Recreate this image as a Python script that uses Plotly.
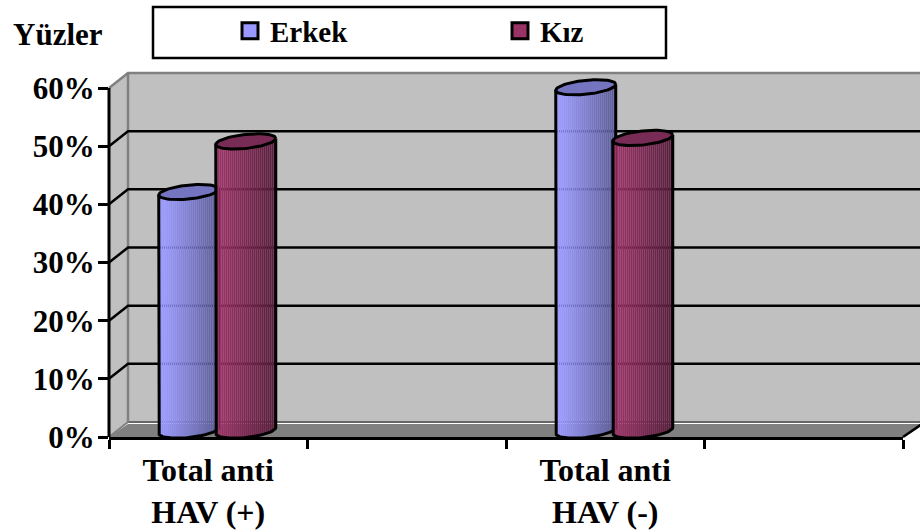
import math
import plotly.graph_objects as go

# Chart data
categories = ["Total anti<br>HAV (+)", "Total anti<br>HAV (-)"]
category_positions = [0.5, 2.5]
erkek_values = [41, 59]
kiz_values = [49.7, 50.3]
y_ticks = [0, 10, 20, 30, 40, 50, 60]

# Canvas geometry (pixels)
W, H = 920, 531
LEFT, RIGHT, AXIS_TOP, BOTTOM = 109, 903, 88, 437
DEPTH_X, DEPTH_Y = 19, 15
PLOT_TOP = AXIS_TOP - DEPTH_Y - 2
X_SPAN = 4
PX_PER_UNIT = (BOTTOM - AXIS_TOP) / 60
Y_SPAN = (BOTTOM - PLOT_TOP) / PX_PER_UNIT
PLOT_W, PLOT_H = RIGHT - LEFT, BOTTOM - PLOT_TOP

# Cylinder proportions (pixels)
HALF_W = 30
CAP_MINOR = 7
CAP_TILT = 3
BASE_LIFT = 6.5
BLUE_SHIFT = -19.5
RED_SHIFT = 37.5
STRIP = 2
OUTLINE = 3

BLUE_LIGHT, BLUE_DARK, BLUE_CAP = (153, 153, 255), (92, 92, 150), "#7474c0"
RED_LIGHT, RED_DARK, RED_CAP = (153, 51, 102), (88, 30, 60), "#772b55"
SERIF = "Liberation Serif"


def dx(px):
    return px * X_SPAN / PLOT_W


def dy(px):
    return px / PX_PER_UNIT


def px_x(x):
    return (x - LEFT) / PLOT_W


def px_y(y):
    return (BOTTOM - y) / PLOT_H


def shade(light, dark, u):
    # Bright band on the left, then falling off towards the right edge
    k = max(0.0, (u - 0.12) / 0.88)
    r, g, b = (round(a + (c - a) * k) for a, c in zip(light, dark))
    return f"rgb({r},{g},{b})"


def cylinder_traces(values, shift, light, dark, cap, xa, ya):
    """Body strips, outline and top cap for one series."""
    n = int(2 * HALF_W / STRIP)
    xs, ys, bases, offs, colors = [], [], [], [], []
    traces = []
    lift = dy(BASE_LIFT)
    for pos, val in zip(category_positions, values):
        for i in range(n):
            t = (i + 0.5) / n * 2 - 1
            arc = math.sqrt(max(0, 1 - t * t))
            xs.append(pos)
            bases.append(lift + dy(CAP_TILT * t - CAP_MINOR * arc))
            ys.append(val + dy(CAP_MINOR * arc))
            offs.append(dx(shift + t * HALF_W - STRIP / 2))
            colors.append(shade(light, dark, (t + 1) / 2))
    traces.append(go.Bar(x=xs, y=ys, base=bases, offset=offs, width=[dx(STRIP)] * len(xs),
                         marker=dict(color=colors, line=dict(width=0)), cliponaxis=False,
                         showlegend=False, hoverinfo="skip", xaxis=xa, yaxis=ya))
    for pos, val in zip(category_positions, values):
        cx = pos + dx(shift)
        top = lift + val
        angles = [k * math.pi / 36 for k in range(73)]
        # Silhouette: left side, lower arc of the base, right side
        sx = [cx - dx(HALF_W)]
        sy = [top - dy(CAP_TILT)]
        for k in range(37):
            a = math.pi - k * math.pi / 36
            sx.append(cx + dx(HALF_W * math.cos(a)))
            sy.append(lift + dy(CAP_TILT * math.cos(a) - CAP_MINOR * math.sin(a)))
        sx.append(cx + dx(HALF_W))
        sy.append(top + dy(CAP_TILT))
        traces.append(go.Scatter(x=sx, y=sy, mode="lines", line=dict(color="black", width=OUTLINE),
                                 cliponaxis=False, showlegend=False, hoverinfo="skip",
                                 xaxis=xa, yaxis=ya))
        traces.append(go.Scatter(
            x=[cx + dx(HALF_W * math.cos(a)) for a in angles],
            y=[top + dy(CAP_TILT * math.cos(a) + CAP_MINOR * math.sin(a)) for a in angles],
            mode="lines", fill="toself", fillcolor=cap, line=dict(color="black", width=OUTLINE),
            cliponaxis=False, showlegend=False, hoverinfo="skip", xaxis=xa, yaxis=ya))
    return traces


fig = go.Figure()
fig.add_traces(cylinder_traces(erkek_values, BLUE_SHIFT, BLUE_LIGHT, BLUE_DARK, BLUE_CAP, "x", "y"))
fig.add_traces(cylinder_traces(kiz_values, RED_SHIFT, RED_LIGHT, RED_DARK, RED_CAP, "x2", "y2"))

# Legend-only entries
for name, color in (("Erkek", "#9999FF"), ("Kız", "#993366")):
    fig.add_trace(go.Scatter(x=[None], y=[None], mode="markers", name=name,
                             marker=dict(symbol="square", size=16, color=color,
                                         line=dict(color="black", width=3))))


def poly(points, fill=None, line=None, width=0, layer="below"):
    path = "M" + "L".join(f"{px_x(x):.5f},{px_y(y):.5f}" for x, y in points)
    if fill:
        path += "Z"
    return dict(type="path", xref="paper", yref="paper", path=path, layer=layer,
                fillcolor=fill if fill else "rgba(0,0,0,0)",
                line=dict(color=line if line else "rgba(0,0,0,0)", width=width))


WALL_L = LEFT + DEPTH_X
WALL_R = RIGHT + DEPTH_X
FLOOR_Y = BOTTOM - DEPTH_Y
TOP_Y = AXIS_TOP - DEPTH_Y
GREY, EDGE, FLOOR = "#c0c0c0", "#808080", "#808080"

shapes = [
    poly([(WALL_L, TOP_Y), (WALL_R, TOP_Y), (WALL_R, FLOOR_Y), (WALL_L, FLOOR_Y)], fill=GREY),
    poly([(LEFT, AXIS_TOP), (WALL_L, TOP_Y), (WALL_L, FLOOR_Y), (LEFT, BOTTOM)], fill=GREY),
    poly([(LEFT, BOTTOM), (WALL_L, FLOOR_Y + 2), (WALL_R, FLOOR_Y + 2), (RIGHT, BOTTOM)], fill=FLOOR),
    poly([(WALL_L, FLOOR_Y), (WALL_R, FLOOR_Y)], line="#666666", width=2),
    poly([(LEFT, AXIS_TOP), (WALL_L, TOP_Y), (WALL_R, TOP_Y)], line=EDGE, width=2.5),
    poly([(WALL_L, TOP_Y), (WALL_L, FLOOR_Y)], line=EDGE, width=2.5),
    poly([(LEFT, BOTTOM), (WALL_L, FLOOR_Y)], line=EDGE, width=2),
    poly([(RIGHT, BOTTOM), (WALL_R, FLOOR_Y + 2)], line="black", width=2.5),
    # Value axis line stops at the top tick
    poly([(LEFT, BOTTOM), (LEFT, AXIS_TOP)], line="black", width=3, layer="above"),
]
# Gridlines run along the back wall and step down the side wall to each tick
for v in y_ticks[1:-1]:
    y = BOTTOM - v * PX_PER_UNIT
    shapes.append(poly([(LEFT, y), (WALL_L, y - DEPTH_Y), (WALL_R, y - DEPTH_Y)], line="black", width=2.5))
# Legend frame
shapes.append(poly([(153, 7), (666, 7), (666, 58), (153, 58)], fill="white", line="black", width=2.5))

fig.update_layout(
    width=W, height=H, autosize=False,
    margin=dict(l=LEFT, r=W - RIGHT, t=PLOT_TOP, b=H - BOTTOM, pad=0, autoexpand=False),
    paper_bgcolor="white", plot_bgcolor="rgba(0,0,0,0)",
    barmode="overlay", shapes=shapes,
    font=dict(family=SERIF, color="black"),
    legend=dict(orientation="h", xref="container", yref="container",
                x=230 / W, y=1 - 31 / H, xanchor="left", yanchor="middle",
                entrywidth=225, entrywidthmode="pixels", bgcolor="rgba(0,0,0,0)",
                font=dict(family=SERIF, size=29, color="black", weight="bold")),
    xaxis=dict(range=[0, X_SPAN], tickmode="array", tickvals=category_positions, ticktext=categories,
               ticks="", ticklabelstandoff=3, showgrid=False, zeroline=False, automargin=False,
               showline=True, linecolor="black", linewidth=3,
               tickfont=dict(family=SERIF, size=32, color="black", weight="bold"),
               minor=dict(ticks="outside", ticklen=9, tickwidth=2.5, tickcolor="black",
                          tick0=0, dtick=1, showgrid=False)),
    yaxis=dict(range=[0, Y_SPAN], tickmode="array", tickvals=y_ticks,
               ticktext=[f"{v}%" for v in y_ticks], automargin=False,
               ticks="outside", ticklen=10, tickwidth=2.5, tickcolor="black",
               ticklabelstandoff=-3, showgrid=False, zeroline=False, showline=False,
               tickfont=dict(family=SERIF, size=31, color="black", weight="bold")),
    xaxis2=dict(overlaying="x", matches="x", visible=False),
    yaxis2=dict(overlaying="y", matches="y", visible=False),
    annotations=[dict(text="<b>Yüzler</b>", xref="paper", yref="paper",
                      x=px_x(58), y=px_y(35), xanchor="center", yanchor="middle", showarrow=False,
                      font=dict(family=SERIF, size=31, color="black"))],
)

fig.write_html("out.html", config=dict(displayModeBar=False))
